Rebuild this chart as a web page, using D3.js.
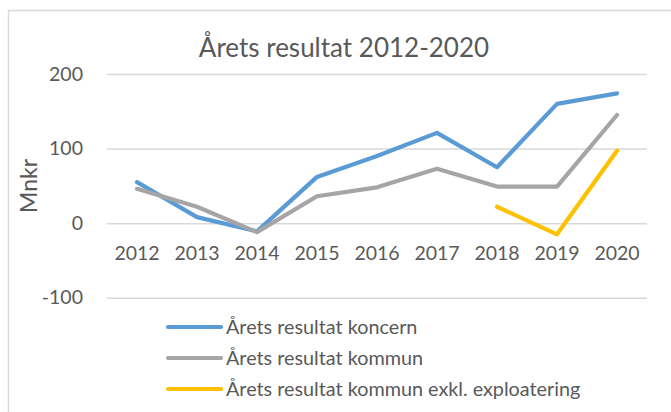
<!DOCTYPE html>
<html>
<head>
<meta charset="utf-8">
<script src="https://cdn.jsdelivr.net/npm/d3@7"></script>
<style>
  html, body { margin: 0; padding: 0; background: #fff; }
  svg { display: block; font-family: Lato, "Open Sans", sans-serif; }
</style>
</head>
<body>
<svg id="chart" width="671" height="412"></svg>
<script>
const title = "Årets resultat 2012-2020";
const yAxisTitle = "Mnkr";
const years = ["2012", "2013", "2014", "2015", "2016", "2017", "2018", "2019", "2020"];
const koncern = [55, 8, -11, 62, 90, 121, 75, 160, 174];
const kommun = [46, 22, -12, 36, 48, 73, 49, 49, 145];
const kommunExkl = [null, null, null, null, null, null, 22, -15, 97];
const yTicks = [-100, 0, 100, 200];
const seriesNames = ["Årets resultat koncern", "Årets resultat kommun", "Årets resultat kommun exkl. exploatering"];
const seriesColors = ["#5b9bd5", "#a5a5a5", "#ffc000"];

const series = [koncern, kommun, kommunExkl].map((vals, i) => ({
  name: seriesNames[i], color: seriesColors[i],
  values: vals.map((v, j) => ({ year: years[j], value: v }))
}));

const svg = d3.select("#chart");
const textColor = "#595959";
const gridColor = "#d9d9d9";

// outer frame
svg.append("rect")
  .attr("x", 8.5).attr("y", 10.5)
  .attr("width", 700).attr("height", 500)
  .attr("fill", "#fff").attr("stroke", gridColor).attr("stroke-width", 1.5);

const plotLeft = 107, plotRight = 647;
const x = d3.scaleBand().domain(years).range([plotLeft, plotRight]);
const y = d3.scaleLinear().domain([-100, 200]).range([297.7, 74]);
const cx = d => x(d) + x.bandwidth() / 2;

// title
svg.append("text")
  .attr("x", 344).attr("y", 57)
  .attr("text-anchor", "middle")
  .attr("fill", textColor)
  .attr("font-size", 26)
  .text(title);

// y axis (gridlines + labels)
const yAxis = svg.append("g")
  .attr("transform", `translate(${plotLeft},0)`)
  .call(d3.axisLeft(y).tickValues(yTicks).tickSize(-(plotRight - plotLeft)).tickPadding(24).tickFormat(d => String(d)));
yAxis.select(".domain").remove();
yAxis.selectAll(".tick line").attr("stroke", gridColor).attr("stroke-width", 1.5);
yAxis.selectAll(".tick text").attr("fill", textColor).attr("font-size", 19.5).attr("font-family", "Lato, sans-serif");

// x axis labels at zero line
const xAxis = svg.append("g")
  .attr("transform", `translate(0,${y(0)})`)
  .call(d3.axisBottom(x).tickSize(0));
xAxis.select(".domain").remove();
xAxis.selectAll(".tick text")
  .attr("dy", null).attr("y", 37)
  .attr("fill", textColor).attr("font-size", 19.5).attr("font-family", "Lato, sans-serif");

// y axis title
svg.append("text")
  .attr("transform", `translate(37,186) rotate(-90)`)
  .attr("text-anchor", "middle")
  .attr("fill", textColor)
  .attr("font-size", 23)
  .text(yAxisTitle);

// lines
const line = d3.line()
  .defined(d => d.value !== null)
  .x(d => cx(d.year))
  .y(d => y(d.value));

svg.append("g").selectAll("path")
  .data(series)
  .join("path")
  .attr("d", d => line(d.values))
  .attr("fill", "none")
  .attr("stroke", d => d.color)
  .attr("stroke-width", 4.2)
  .attr("stroke-linecap", "round")
  .attr("stroke-linejoin", "round");

// legend
const legend = svg.append("g").selectAll("g")
  .data(series)
  .join("g")
  .attr("transform", (d, i) => `translate(0,${327 + i * 31})`);
legend.append("line")
  .attr("x1", 168).attr("x2", 221)
  .attr("y1", 0).attr("y2", 0)
  .attr("stroke", d => d.color)
  .attr("stroke-width", 4.2)
  .attr("stroke-linecap", "round");
legend.append("text")
  .attr("x", 226).attr("y", 7)
  .attr("fill", textColor)
  .attr("font-size", 19.8)
  .text(d => d.name);
</script>
</body>
</html>
